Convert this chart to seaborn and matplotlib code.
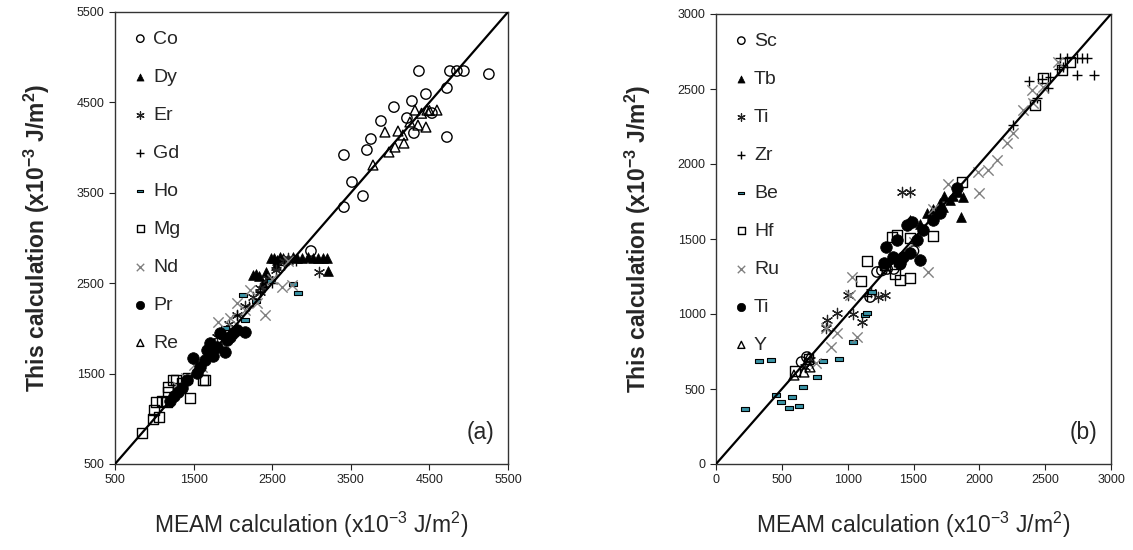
import numpy as np
import pandas as pd
import matplotlib
matplotlib.use("Agg")
import matplotlib.pyplot as plt
import seaborn as sns
from matplotlib.path import Path

sns.set_style("ticks")
plt.rcParams['font.family'] = ['Liberation Sans', 'DejaVu Sans']
plt.rcParams['mathtext.fontset'] = 'custom'
plt.rcParams['mathtext.rm'] = 'Liberation Sans'
plt.rcParams['mathtext.bf'] = 'Liberation Sans:bold'

# ---------------- Panel (a) data ----------------
co_x = [4367, 4761, 4850, 4939, 5257, 4456, 4723, 4049, 4278, 3884, 3756, 3413, 3705, 4723, 3515, 3655, 3413, 4214, 4303, 4532, 2993]
co_y = [4847, 4847, 4847, 4847, 4813, 4592, 4659, 4448, 4515, 4294, 4095, 3918, 3973, 4117, 3619, 3464, 3342, 4327, 4161, 4382, 2856]
dy_x = [2250, 2290, 2330, 2420, 2480, 2520, 2560, 2600, 2640, 2700, 2760, 2820, 2880, 2950, 3020, 3080, 3140, 3200, 3210, 2380, 2450, 2550]
dy_y = [2590, 2600, 2580, 2620, 2780, 2780, 2760, 2790, 2780, 2770, 2790, 2780, 2780, 2790, 2780, 2780, 2780, 2780, 2630, 2500, 2560, 2700]
er_x = [1950, 2050, 2150, 2250, 2350, 2450, 2550, 2650, 2700, 3100, 1800, 2350]
er_y = [2050, 2150, 2250, 2350, 2450, 2550, 2650, 2750, 2780, 2620, 1900, 2400]
gd_x = [1750, 1900, 2050, 2200, 2350, 2500, 2650, 2800]
gd_y = [1800, 1950, 2150, 2250, 2400, 2500, 2700, 2750]
ho_x = [2130, 2160, 2760, 2830, 2480, 2300, 1900]
ho_y = [2370, 2090, 2490, 2390, 2520, 2300, 2000]
mg_x = [843, 983, 1060, 996, 1021, 1098, 1174, 1238, 1454, 1619, 1161, 1174, 1645, 1276, 1350, 1300, 1420]
mg_y = [843, 998, 1020, 1097, 1186, 1197, 1296, 1429, 1230, 1429, 1186, 1352, 1429, 1429, 1400, 1350, 1450]
nd_x = [1810, 1963, 2408, 2306, 2624, 2751, 2217, 2052, 1606, 2500, 2000, 1400, 1300, 2150, 2700, 1500]
nd_y = [2070, 2115, 2148, 2281, 2458, 2480, 2424, 2281, 1573, 2550, 2000, 1450, 1350, 2200, 2750, 1600]
pr_x = [1492, 1670, 1836, 2154, 1900, 1709, 1581, 1416, 1963, 2052, 1797, 1925, 1352, 1543, 1645, 1750, 2000, 1300, 1250, 1200]
pr_y = [1672, 1761, 1949, 1960, 1739, 1838, 1573, 1429, 1905, 1982, 1794, 1871, 1341, 1506, 1650, 1700, 1950, 1300, 1250, 1200]
re_x = [3934, 4100, 3985, 4062, 3782, 4163, 4316, 4469, 4596, 4456, 4354, 4252, 4176, 4400, 4500]
re_y = [4172, 4183, 3951, 4006, 3807, 4139, 4415, 4415, 4415, 4227, 4249, 4283, 4050, 4380, 4410]

# ---------------- Panel (b) data ----------------
sc_x = [1223, 1260, 1300, 1170, 690, 650, 1400, 1500, 1350]
sc_y = [1280, 1290, 1300, 1113, 713, 680, 1330, 1420, 1300]
tb_x = [1732, 1861, 1876, 1838, 1724, 1473, 1603, 1777, 1650, 1700, 1800, 1550]
tb_y = [1787, 1647, 1780, 1813, 1713, 1627, 1673, 1760, 1700, 1740, 1790, 1600]
tia_x = [1413, 1473, 1284, 1230, 1109, 835, 1003, 919, 843, 676, 714, 1040, 1180]
tia_y = [1813, 1813, 1127, 1113, 947, 907, 1127, 1007, 960, 647, 693, 1000, 1150]
zr_x = [2613, 2666, 2742, 2780, 2818, 2742, 2871, 2377, 2476, 2537, 2605, 2635, 2522, 2438, 2256, 1150, 1350]
zr_y = [2707, 2707, 2707, 2707, 2707, 2593, 2593, 2553, 2567, 2580, 2633, 2647, 2507, 2440, 2260, 1120, 1350]
be_x = [327, 418, 220, 494, 577, 554, 630, 661, 456, 934, 1040, 1132, 813, 767, 1147, 1185]
be_y = [687, 693, 367, 413, 447, 373, 387, 513, 460, 700, 813, 993, 687, 580, 1007, 1147]
hf_x = [1868, 1648, 1473, 1337, 1375, 1147, 1101, 1360, 1397, 1473, 2484, 2423, 2628, 2689, 1284, 600, 700]
hf_y = [1880, 1520, 1507, 1513, 1527, 1353, 1220, 1267, 1227, 1240, 2573, 2393, 2627, 2680, 1327, 620, 700]
ru_x = [2400, 2408, 2256, 2210, 2134, 2066, 1990, 1998, 1762, 1610, 1033, 1018, 835, 873, 919, 759, 1071, 2332, 2484, 2597, 1500, 1650]
ru_y = [2493, 2407, 2207, 2140, 2027, 1960, 1947, 1807, 1867, 1280, 1247, 1127, 907, 780, 873, 673, 847, 2360, 2513, 2680, 1480, 1700]
tif_x = [1291, 1276, 1375, 1451, 1489, 1549, 1420, 1344, 1527, 1648, 1701, 1830, 1572, 1397, 1473]
tif_y = [1447, 1340, 1493, 1593, 1613, 1360, 1380, 1380, 1493, 1627, 1673, 1840, 1560, 1340, 1407]
y_x = [592, 706, 668, 714]
y_y = [593, 713, 613, 647]

line_a = [500, 5500]
line_b = [0, 3000]
ticks_a = [500, 1500, 2500, 3500, 4500, 5500]
ticks_b = [0, 500, 1000, 1500, 2000, 2500, 3000]

dash_marker = Path([(-1, -0.45), (1, -0.45), (1, 0.45), (-1, 0.45), (-1, -0.45)],
                   [Path.MOVETO, Path.LINETO, Path.LINETO, Path.LINETO, Path.CLOSEPOLY])
ast = (6, 2, 0)
GRAY = '#808080'
TEAL = '#3a95a8'

styles = {
    'open_circle': dict(marker='o', s=55, facecolor='none', edgecolor='k', linewidth=1.0),
    'filled_tri': dict(marker='^', s=50, color='k', edgecolor='k', linewidth=0.5),
    'asterisk': dict(marker=ast, s=55, color='#222222', linewidth=0.9),
    'plus': dict(marker='+', s=60, color='k', linewidth=1.0),
    'dash': dict(marker=dash_marker, s=30, color=TEAL, edgecolor='k', linewidth=0.8),
    'open_square': dict(marker='s', s=45, facecolor='none', edgecolor='k', linewidth=1.0),
    'gray_x': dict(marker='x', s=55, color=GRAY, linewidth=1.0),
    'filled_circle': dict(marker='o', s=70, color='k', edgecolor='k', linewidth=0.5),
    'open_tri': dict(marker='^', s=50, facecolor='none', edgecolor='k', linewidth=1.0),
}

series_a = [
    ('Co', co_x, co_y, 'open_circle'),
    ('Dy', dy_x, dy_y, 'filled_tri'),
    ('Er', er_x, er_y, 'asterisk'),
    ('Gd', gd_x, gd_y, 'plus'),
    ('Ho', ho_x, ho_y, 'dash'),
    ('Mg', mg_x, mg_y, 'open_square'),
    ('Nd', nd_x, nd_y, 'gray_x'),
    ('Pr', pr_x, pr_y, 'filled_circle'),
    ('Re', re_x, re_y, 'open_tri'),
]
series_b = [
    ('Sc', sc_x, sc_y, 'open_circle'),
    ('Tb', tb_x, tb_y, 'filled_tri'),
    ('Ti', tia_x, tia_y, 'asterisk'),
    ('Zr', zr_x, zr_y, 'plus'),
    ('Be', be_x, be_y, 'dash'),
    ('Hf', hf_x, hf_y, 'open_square'),
    ('Ru', ru_x, ru_y, 'gray_x'),
    ('Ti', tif_x, tif_y, 'filled_circle'),
    ('Y', y_x, y_y, 'open_tri'),
]

fig = plt.figure(figsize=(11.33, 5.5), dpi=100)
ax_a = fig.add_axes([115 / 1133, 86 / 550, 393 / 1133, 452 / 550])
ax_b = fig.add_axes([716 / 1133, 86 / 550, 395 / 1133, 450 / 550])


def draw(ax, series, line, ticks, tag):
    for name, xs, ys, st in series:
        df = pd.DataFrame({'x': xs, 'y': ys})
        sns.scatterplot(data=df, x='x', y='y', ax=ax, label=name, legend=False, zorder=3, **styles[st])
    sns.lineplot(x=line, y=line, ax=ax, color='k', linewidth=1.6, zorder=4, legend=False)
    ax.set_xlim(line[0], line[1])
    ax.set_ylim(line[0], line[1])
    ax.set_xticks(ticks)
    ax.set_yticks(ticks)
    ax.tick_params(axis='both', direction='out', length=4, width=0.8, labelsize=9, colors='#222222')
    for sp in ax.spines.values():
        sp.set_visible(True)
        sp.set_linewidth(1.0)
        sp.set_color('#333333')
    ax.set_xlabel('MEAM calculation (x10$^{-3}$ J/m$^{2}$)', fontsize=16.5, labelpad=17)
    ax.set_ylabel(r'This calculation (x10$^{\mathbf{-3}}$ J/m$^{\mathbf{2}}$)', fontsize=16.5,
                  fontweight='bold', labelpad=18)
    ax.text(0.93, 0.07, tag, transform=ax.transAxes, fontsize=16.5, ha='center', va='center')
    ax.legend(loc='upper left', frameon=False, fontsize=14, markerscale=0.72,
              labelspacing=1.05, handlelength=0.8, handletextpad=0.25,
              borderaxespad=0.3, bbox_to_anchor=(0.01, 0.99))


draw(ax_a, series_a, line_a, ticks_a, '(a)')
draw(ax_b, series_b, line_b, ticks_b, '(b)')

fig.savefig('out.png', dpi=100, facecolor='white')
